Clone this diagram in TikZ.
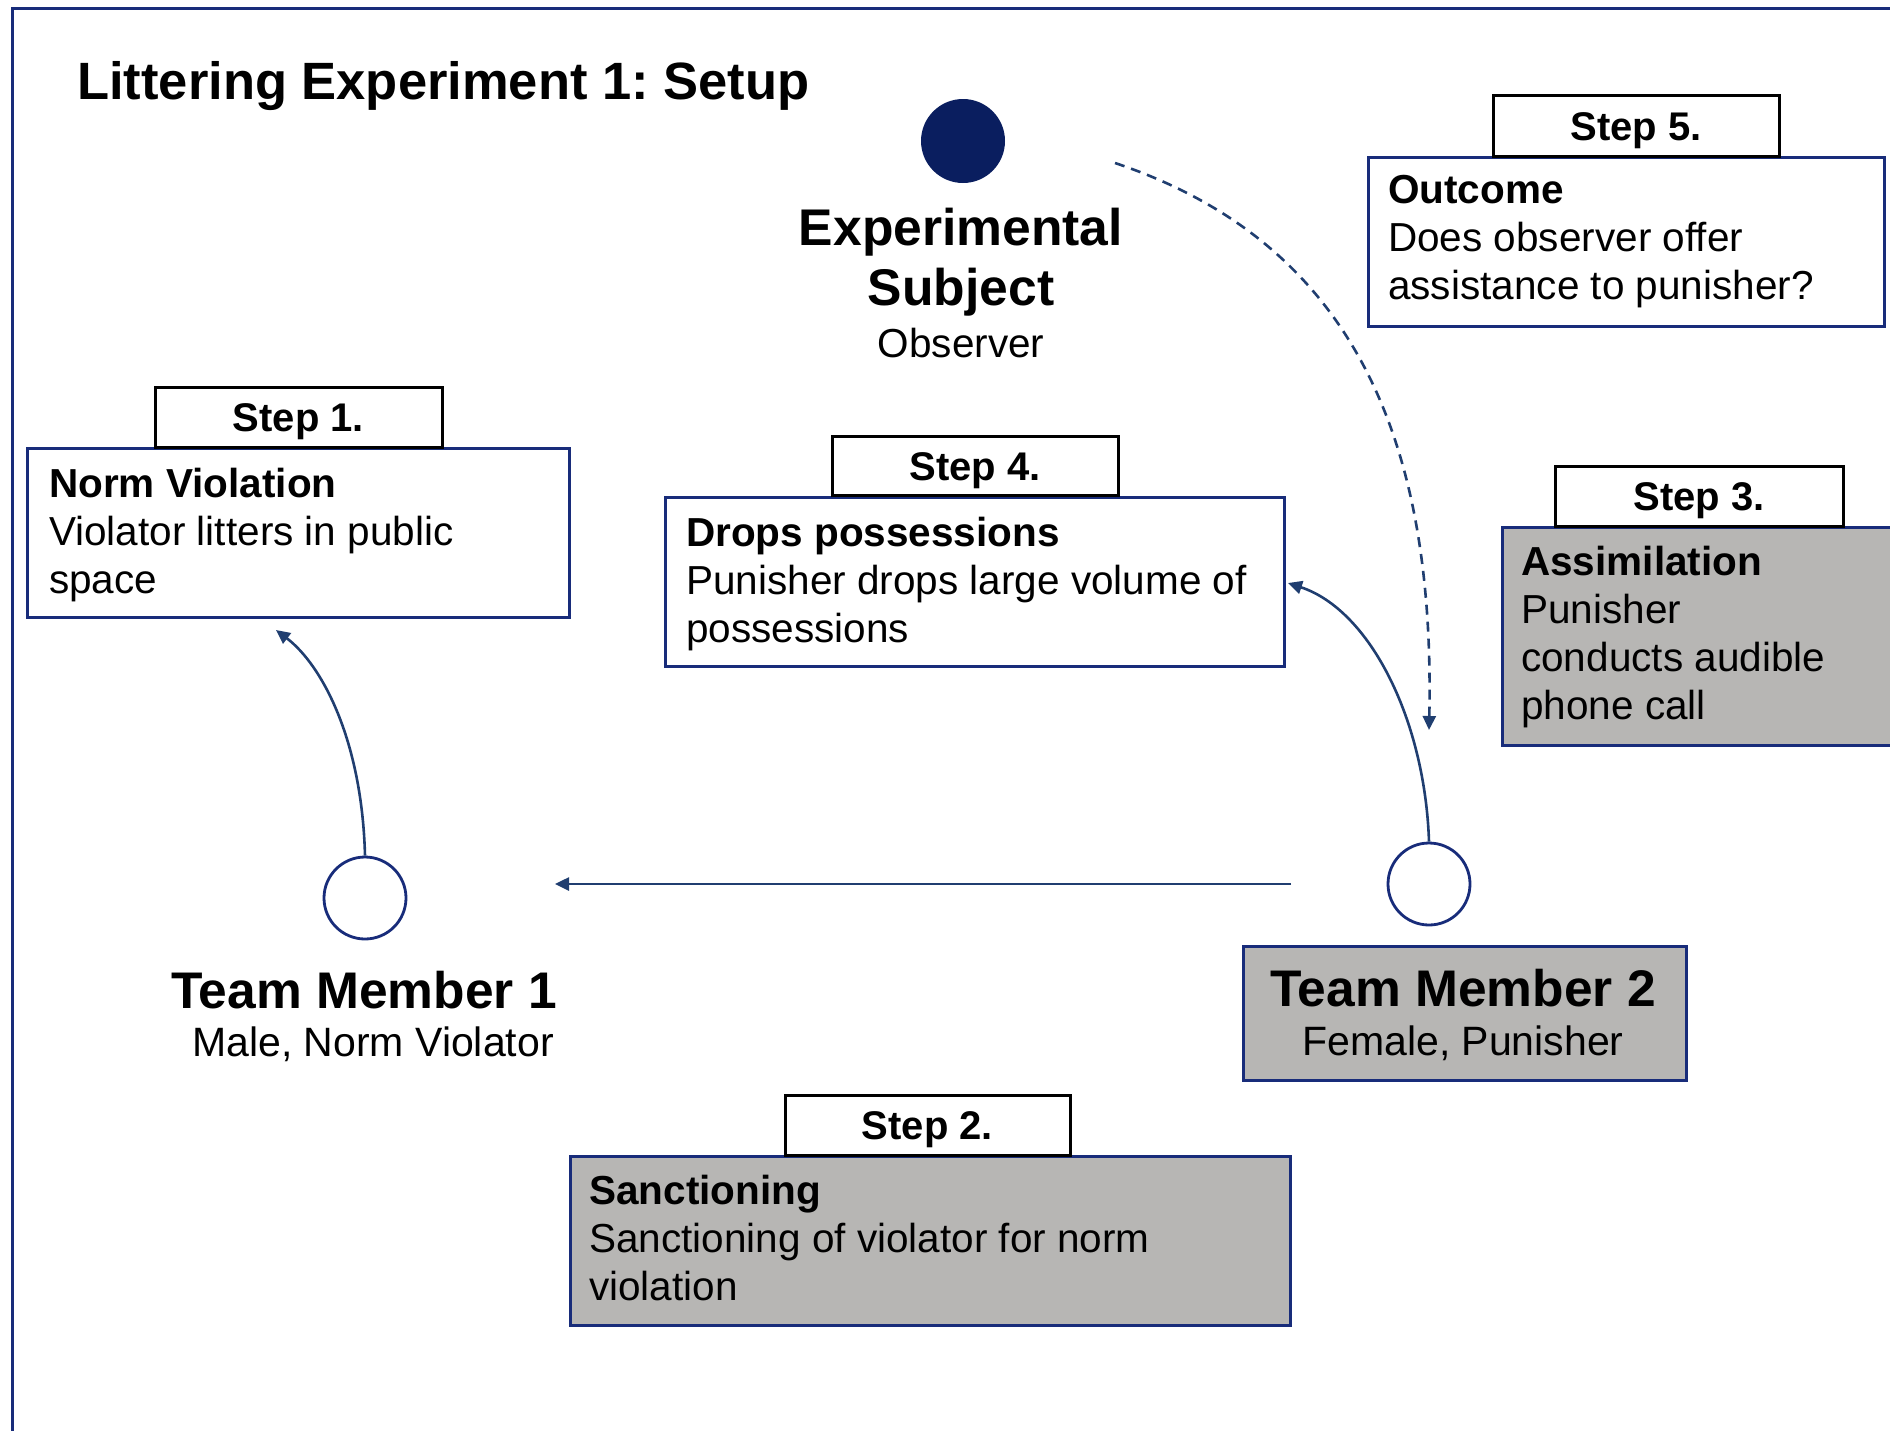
\documentclass[tikz,border=0pt]{standalone}
\usepackage{fontspec}
\setmainfont{Liberation Sans}
\usetikzlibrary{arrows.meta}
\definecolor{navy}{RGB}{24,44,122}
\definecolor{linkblue}{RGB}{32,62,112}
\definecolor{subjectfill}{RGB}{10,30,95}
\definecolor{boxgray}{RGB}{183,182,180}
\frenchspacing
\begin{document}
\begin{tikzpicture}[x=1pt,y=-1pt,
  frame/.style={draw=navy, line width=3pt},
  stepbox/.style={draw=navy, line width=3pt, inner sep=0pt, fill=white},
  shaded/.style={stepbox, fill=boxgray},
  tab/.style={draw=black, line width=3pt, fill=white, inner sep=0pt,
    font=\fontsize{40}{48}\selectfont\bfseries, text height=29pt, text depth=0pt},
  body/.style={anchor=north west, inner sep=0pt, align=left,
    font=\fontsize{40.5}{48}\selectfont},
  heading/.style={anchor=base, inner sep=0pt, font=\fontsize{51.5}{60}\selectfont\bfseries},
  subline/.style={anchor=base, inner sep=0pt, font=\fontsize{41}{48}\selectfont},
  member/.style={circle, draw=navy, line width=2.8pt, minimum size=82pt, inner sep=0pt, fill=white},
  link/.style={draw=linkblue, line width=2.6pt, -{Triangle[length=14pt,width=13pt]}},
]
\useasboundingbox (0,0) rectangle (1890,1430);

% outer frame (open to the right and bottom)
\draw[frame] (12,1450) -- (12,8) -- (1910,8);

% title
\node[anchor=base west, inner sep=0pt, font=\fontsize{52.5}{60}\selectfont\bfseries]
  (title) at (77,99) {Littering Experiment 1: Setup};

% experimental subject
\node[circle, fill=subjectfill, minimum size=84pt, inner sep=0pt] (subject) at (963,141) {};
\node[heading, font=\fontsize{51.6}{60}\selectfont\bfseries] (subjA) at (961,245) {Experimental};
\node[heading, font=\fontsize{51.6}{60}\selectfont\bfseries] (subjB) at (961,305) {Subject};
\node[subline, font=\fontsize{40.5}{48}\selectfont] (subjC) at (961,357) {Observer};

% step 1
\node[stepbox, minimum width=542pt, minimum height=169pt] (nv) at (298.5,532.5) {};
\node[tab, minimum width=287pt, minimum height=60pt] (tab1) at (298.5,417) {Step 1.};
\node[body] (nvtext) at (49,464) {\strut\textbf{Norm Violation}\\Violator litters in public\\space};

% step 4
\node[stepbox, minimum width=619pt, minimum height=169pt] (dp) at (974.5,581.5) {};
\node[tab, minimum width=286pt, minimum height=59pt] (tab4) at (975,465.5) {Step 4.};
\node[body] (dptext) at (686,513) {\strut\textbf{Drops possessions}\\Punisher drops large volume of\\possessions};

% step 5
\node[stepbox, minimum width=516pt, minimum height=169pt] (oc) at (1626,242) {};
\node[tab, minimum width=286pt, minimum height=61pt] (tab5) at (1636,125.5) {Step 5.};
\node[body] (octext) at (1388,169.5) {\strut\textbf{Outcome}\\Does observer offer\\assistance to punisher?};

% step 3
\node[shaded, minimum width=410pt, minimum height=218pt] (as) at (1707,636) {};
\node[tab, minimum width=288pt, minimum height=60pt] (tab3) at (1699,496) {Step 3.};
\node[body] (astext) at (1521,541.5) {\strut\textbf{Assimilation}\\Punisher\\conducts audible\\phone call};

% step 2
\node[shaded, minimum width=720pt, minimum height=169pt] (sn) at (930,1240.5) {};
\node[tab, minimum width=285pt, minimum height=60pt] (tab2) at (927.5,1125) {Step 2.};
\node[body] (sntext) at (589,1170.5) {\strut\textbf{Sanctioning}\\Sanctioning of violator for norm\\violation};

% team member 1
\node[member] (tm1) at (365,898) {};
\node[heading] (tm1name) at (364,1008) {Team Member 1};
\node[subline] (tm1role) at (373,1056) {Male, Norm Violator};

% team member 2
\node[member] (tm2) at (1429,884) {};
\node[shaded, minimum width=443pt, minimum height=134pt] (tm2box) at (1464.5,1013) {};
\node[heading] (tm2name) at (1463,1006) {Team Member 2};
\node[subline] (tm2role) at (1463,1055) {Female, Punisher};

% connectors
\coordinate (nvin) at (276,630);
\coordinate (dpin) at (1288,583);
\coordinate (hstart) at (1291,884);
\coordinate (hend) at (555,884);
\coordinate (obsout) at (1115,163);
\coordinate (tm2in) at (1429,730);

\draw[link] (tm1.north) .. controls (362,740) and (322,665) .. (nvin);
\draw[link] (tm2.north) .. controls (1425,720) and (1370,610) .. (dpin);
\draw[link] (hstart) -- (hend);
\draw[link, dash pattern=on 10pt off 7pt] (obsout) .. controls (1360,245) and (1435,450) .. (tm2in);
\end{tikzpicture}
\end{document}
